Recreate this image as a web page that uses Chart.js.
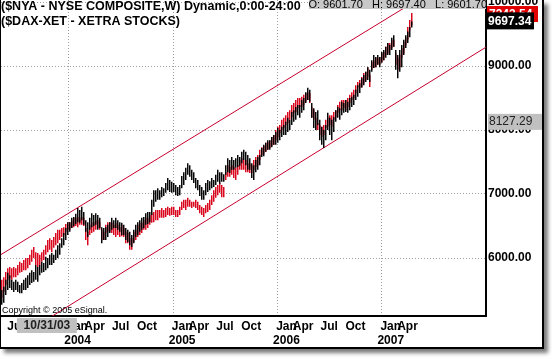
<!DOCTYPE html>
<html><head><meta charset="utf-8">
<script src="https://cdn.jsdelivr.net/npm/chart.js@4"></script>
<style>
html,body{margin:0;padding:0;background:#fff;}
#win{position:absolute;left:0;top:0;width:541px;height:347px;border-left:1px solid #000;border-right:2px solid #000;border-bottom:2px solid #000;box-shadow:4px 4px 4px #7a7a7a;background:#fff;}
canvas{display:block;}
</style></head><body>
<div id="win"><canvas id="c" width="541" height="347"></canvas></div>
<script>
// week 0 of the weekly series
const startDate = '2003-05-12';

// $NYA weekly high / low
const nyaHigh = [
5500,5550,5660,5770,5730,5660,5630,5660,5630,5580,
5610,5660,5690,5730,5770,5810,5780,5890,5860,5890,
5940,5920,6020,6000,6050,6080,6050,6130,6200,6230,
6310,6390,6470,6560,6560,6630,6640,6690,6780,6750,
6800,6720,6590,6560,6630,6700,6670,6700,6670,6630,
6480,6470,6480,6520,6560,6630,6590,6630,6590,6560,
6550,6520,6470,6440,6410,6360,6440,6520,6560,6590,
6630,6640,6700,6720,6720,6910,7060,7060,7090,7060,
7110,7090,7170,7250,7220,7190,7170,7140,7110,7140,
7280,7340,7410,7480,7450,7380,7340,7250,7220,7140,
7110,7060,7170,7220,7200,7250,7220,7300,7380,7340,
7340,7310,7450,7560,7530,7580,7530,7560,7610,7580,
7660,7690,7660,7610,7560,7480,7450,7530,7580,7610,
7720,7770,7800,7840,7840,7890,7920,7970,8030,8000,
8050,8080,8130,8190,8160,8280,8310,8360,8390,8390,
8470,8500,8590,8660,8630,8420,8340,8280,8310,8160,
8050,8000,8080,8270,8190,8160,8200,8310,8360,8340,
8440,8420,8470,8440,8500,8520,8550,8630,8700,8730,
8810,8860,8910,8980,8940,9090,9170,9140,9170,9140,
9220,9250,9300,9360,9330,9440,9480,9250,9170,9250,
9330,9410,9480,9540,9610,9697];
const nyaLow = [
5270,5300,5420,5500,5530,5500,5470,5500,5470,5450,
5450,5500,5500,5530,5580,5610,5630,5660,5630,5730,
5770,5780,5810,5840,5890,5890,5920,5970,6000,6050,
6160,6200,6280,6360,6410,6470,6500,6530,6560,6550,
6590,6520,6410,6330,6440,6480,6500,6520,6440,6470,
6230,6280,6280,6330,6390,6440,6470,6470,6440,6410,
6360,6360,6280,6250,6200,6170,6230,6330,6360,6410,
6440,6470,6520,6530,6560,6670,6800,6880,6910,6910,
6950,6970,7020,7060,7030,7020,7030,6980,6970,6980,
7090,7140,7220,7300,7270,7220,7170,7090,7060,6970,
6910,6910,6980,7030,7060,7090,7110,7140,7190,7160,
7190,7190,7300,7340,7330,7380,7380,7410,7420,7440,
7480,7530,7450,7380,7380,7250,7220,7340,7380,7450,
7580,7590,7660,7690,7690,7730,7770,7770,7800,7840,
7890,7920,7920,7970,8000,8080,8130,8160,8230,8190,
8270,8310,8420,8470,8440,8190,8030,8000,8080,7840,
7770,7720,7840,8000,7920,7840,7970,8130,8190,8160,
8230,8270,8280,8270,8310,8360,8390,8470,8520,8580,
8660,8700,8750,8780,8750,8910,8970,8980,9020,8980,
9050,9090,9130,9170,9170,9250,9300,8940,8810,8910,
8980,9170,9280,9360,9450,9602];

// $DAX-XET weekly high / low (as plotted on the shared scale)
const daxHigh = [
5660,5700,5780,5840,5860,5840,5860,5840,5890,5940,
5920,5970,6000,6000,6050,6130,6170,6090,6080,6050,
6090,6130,6200,6280,6310,6280,6330,6390,6440,6440,
6470,6480,6530,6560,6560,6590,6630,6630,6640,6630,
6640,6630,6470,6410,6520,6560,6560,6590,6590,6560,
6440,6410,6520,6560,6560,6550,6520,6550,6520,6480,
6520,6470,6410,6390,6310,6310,6410,6440,6520,6550,
6550,6590,6630,6630,6670,6700,6720,6750,6750,6750,
6780,6750,6780,6800,6780,6800,6800,6750,6750,6800,
6880,6910,6910,6940,6910,6880,6880,6910,6880,6830,
6800,6780,6830,6860,6910,6980,7060,7110,7140,7170,
7140,7110,7340,7450,7420,7450,7420,7410,7450,7530,
7560,7530,7530,7480,7480,7450,7530,7580,7610,7690,
7730,7750,7800,7810,7840,7890,7920,8000,8050,8080,
8160,8190,8230,8280,8310,8390,8420,8470,8500,8500,
8520,8550,8580,8590,8580,8360,8310,8190,8110,8080,
8050,8080,8160,8200,8230,8230,8280,8310,8390,8440,
8470,8470,8470,8500,8550,8590,8630,8700,8750,8780,
8830,8890,8910,8980,8860,9060,9090,9130,9130,9140,
9200,9220,9300,9360,9360,9410,9410,9200,9130,9170,
9280,9380,9450,9610,9720,9830];
const daxLow = [
5380,5470,5580,5660,5690,5660,5700,5700,5730,5770,
5780,5810,5810,5840,5890,5940,6000,5890,5860,5890,
5940,5970,6050,6090,6130,6090,6160,6200,6230,6280,
6330,6360,6410,6440,6440,6470,6480,6500,6480,6520,
6520,6500,6280,6200,6360,6390,6410,6440,6470,6440,
6280,6280,6390,6410,6410,6390,6360,6330,6360,6330,
6340,6330,6230,6230,6130,6130,6250,6280,6330,6360,
6390,6440,6440,6470,6520,6550,6560,6590,6590,6630,
6630,6630,6640,6670,6660,6670,6670,6640,6640,6670,
6750,6780,6750,6800,6800,6780,6800,6780,6750,6700,
6670,6640,6700,6720,6750,6830,6880,6940,6980,7020,
6950,6950,7220,7270,7270,7300,7250,7220,7300,7380,
7380,7380,7340,7340,7330,7330,7380,7420,7450,7530,
7610,7630,7660,7690,7720,7750,7770,7840,7890,7950,
8000,8030,8080,8110,8160,8200,8270,8280,8340,8360,
8360,8390,8440,8470,8420,8190,8160,8000,8000,7920,
7890,7920,8030,8050,8080,8050,8160,8200,8270,8310,
8310,8340,8310,8360,8420,8470,8500,8580,8660,8660,
8670,8730,8780,8830,8670,8940,8970,8980,9020,9020,
9060,9090,9170,9200,9250,9280,9300,9020,8940,8980,
9130,9200,9330,9410,9560,9640];

// regression channel (week index -> value)
const channelWeeks = [-1, 242];
const channelUpper = [6042, 10687];
const channelLower = [4584, 9292];

// axis ticks
const yTickValues = [6000, 7000, 8000, 9000, 10000];
const yearStarts = ['2004-01-01', '2005-01-01', '2006-01-01', '2007-01-01'];
const labelDates = ['2003-07-01','2003-10-01','2004-01-01','2004-04-01','2004-07-01','2004-10-01',
  '2005-01-01','2005-04-01','2005-07-01','2005-10-01','2006-01-01','2006-04-01','2006-07-01','2006-10-01',
  '2007-01-01','2007-04-01'];
const labelTexts = ['Jul','Oct',['Jan','2004'],'Apr','Jul','Oct',['Jan','2005'],'Apr','Jul','Oct',
  ['Jan','2006'],'Apr','Jul','Oct',['Jan','2007'],'Apr'];

// readouts
const lastClose = 9697.34;
const daxReadout = '7343.54';
const daxReadoutLevel = 9812;
const cursorLevel = 8127.29;
const cursorDate = '2003-10-31';
const cursorDateText = '10/31/03';
const headerText = 'O: 9601.70   H: 9697.40   L: 9601.70';
const titleLine1 = '($NYA - NYSE COMPOSITE,W) Dynamic,0:00-24:00';
const titleLine2 = '($DAX-XET - XETRA STOCKS)';
const copyright = 'Copyright \u00a9 2005 eSignal.';

const DAY = 864e5;
const weekOf = d => (Date.parse(d) - Date.parse(startDate)) / (7 * DAY);

const nyaData = nyaHigh.map((h, i) => ({x: i, y: [nyaLow[i], h]}));
const daxData = daxHigh.map((h, i) => ({x: i, y: [daxLow[i], h]}));

const FONT = '"Liberation Sans", Arial, sans-serif';
const XMIN = -0.375, XMAX = XMIN + 485 / 2;

const overlay = {
  id: 'overlay',
  afterDraw(chart) {
    const ctx = chart.ctx, ys = chart.scales.y, xs = chart.scales.x, ca = chart.chartArea;
    ctx.save();
    ctx.textBaseline = 'alphabetic';
    // title
    ctx.fillStyle = '#000';
    ctx.font = 'bold 12.5px ' + FONT;
    ctx.textAlign = 'left';
    ctx.fillText(titleLine1, 0, 10);
    ctx.fillText(titleLine2, 0, 25);
    // header strip
    ctx.fillStyle = '#c8c8c8';
    ctx.fillRect(308, 0, ca.right - 308, 9);
    ctx.fillStyle = '#000';
    ctx.font = '11px ' + FONT;
    ctx.textAlign = 'right';
    ctx.fillText(headerText, ca.right + 1, 8);
    // DAX readout (red), mostly hidden
    const bx = ca.right + 1;
    let yy = ys.getPixelForValue(daxReadoutLevel);
    ctx.fillStyle = '#e00000';
    ctx.fillRect(bx, yy - 8, 51, 16);
    ctx.fillStyle = '#fff';
    ctx.font = 'bold 12px ' + FONT;
    ctx.textAlign = 'left';
    ctx.textBaseline = 'middle';
    ctx.fillText(daxReadout, bx + 2, yy + 1);
    // last close (black)
    yy = ys.getPixelForValue(lastClose);
    ctx.fillStyle = '#000';
    ctx.fillRect(bx, yy - 9, 47, 17);
    ctx.fillStyle = '#fff';
    ctx.fillText(lastClose.toFixed(2), bx + 1, yy);
    // cursor level readout
    yy = ys.getPixelForValue(cursorLevel);
    ctx.fillStyle = '#c0c0c0';
    ctx.fillRect(bx + 1, yy - 8, 54, 16);
    ctx.fillStyle = '#222';
    ctx.font = '12px ' + FONT;
    ctx.fillText(cursorLevel.toFixed(2), bx + 2, yy);
    // cursor date readout
    const cx = xs.getPixelForValue(weekOf(cursorDate)) - 4;
    ctx.fillStyle = '#c0c0c0';
    ctx.fillRect(cx - 30, ca.bottom + 2, 60, 15);
    ctx.fillStyle = '#222';
    ctx.font = 'bold 12px ' + FONT;
    ctx.textAlign = 'center';
    ctx.fillText(cursorDateText, cx, ca.bottom + 10);
    // copyright
    ctx.fillStyle = '#000';
    ctx.font = '9px ' + FONT;
    ctx.textAlign = 'left';
    ctx.textBaseline = 'alphabetic';
    ctx.fillText(copyright, 1, ca.bottom - 3);
    ctx.restore();
  }
};

new Chart(document.getElementById('c'), {
  data: {
    datasets: [
      {type: 'bar', label: 'NYA', data: nyaData, backgroundColor: '#000', borderWidth: 0,
       grouped: false, maxBarThickness: 1.5, order: 1},
      {type: 'bar', label: 'DAX', data: daxData, backgroundColor: '#d80018', borderWidth: 0,
       grouped: false, maxBarThickness: 1.5, order: 2},
      {type: 'line', label: 'upper', data: channelWeeks.map((w, i) => ({x: w, y: channelUpper[i]})),
       borderColor: '#c8002c', borderWidth: 1, pointRadius: 0, order: 3},
      {type: 'line', label: 'lower', data: channelWeeks.map((w, i) => ({x: w, y: channelLower[i]})),
       borderColor: '#c8002c', borderWidth: 1, pointRadius: 0, order: 3}
    ]
  },
  options: {
    responsive: false, animation: false, devicePixelRatio: 1,
    layout: {padding: 0},
    plugins: {legend: {display: false}, tooltip: {enabled: false}, title: {display: false}},
    scales: {
      x: {
        type: 'linear', position: 'bottom', min: XMIN, max: XMAX, weight: 0, offset: false,
        grid: {color: '#a0a0a0', drawTicks: false, offset: false},
        border: {display: false, dash: [1, 2]},
        ticks: {display: false},
        afterBuildTicks: s => { s.ticks = yearStarts.map(d => ({value: weekOf(d)})); },
        afterFit: s => { s.height = 0; s.paddingLeft = 0; s.paddingRight = 0; }
      },
      xl: {
        type: 'linear', position: 'bottom', min: XMIN, max: XMAX, weight: 1, offset: false,
        grid: {display: false, drawTicks: false, offset: false},
        border: {display: true, color: '#000', width: 2},
        ticks: {
          autoSkip: false, maxRotation: 0, padding: 3, color: '#000',
          font: {family: FONT, size: 12, weight: 'bold'},
          callback: (v, i) => labelTexts[i]
        },
        afterBuildTicks: s => {
          s.ticks = labelDates.map((d, i) => ({value: weekOf(d) + (Array.isArray(labelTexts[i]) ? 4.5 : 0)}));
        },
        afterFit: s => { s.height = 31; s.paddingLeft = 0; s.paddingRight = 0; }
      },
      y: {
        type: 'linear', position: 'right', min: 5093.75, max: 10031.25,
        grid: {color: '#a0a0a0', drawTicks: false},
        border: {display: true, color: '#000', width: 2, dash: [1, 2]},
        ticks: {
          padding: 2, color: '#000', font: {family: FONT, size: 12, weight: 'bold'},
          callback: v => v.toFixed(2)
        },
        afterBuildTicks: s => { s.ticks = yTickValues.map(v => ({value: v})); },
        afterFit: s => { s.width = 56; s.paddingTop = 0; s.paddingBottom = 0; }
      }
    }
  },
  plugins: [overlay]
});
</script>
</body></html>
